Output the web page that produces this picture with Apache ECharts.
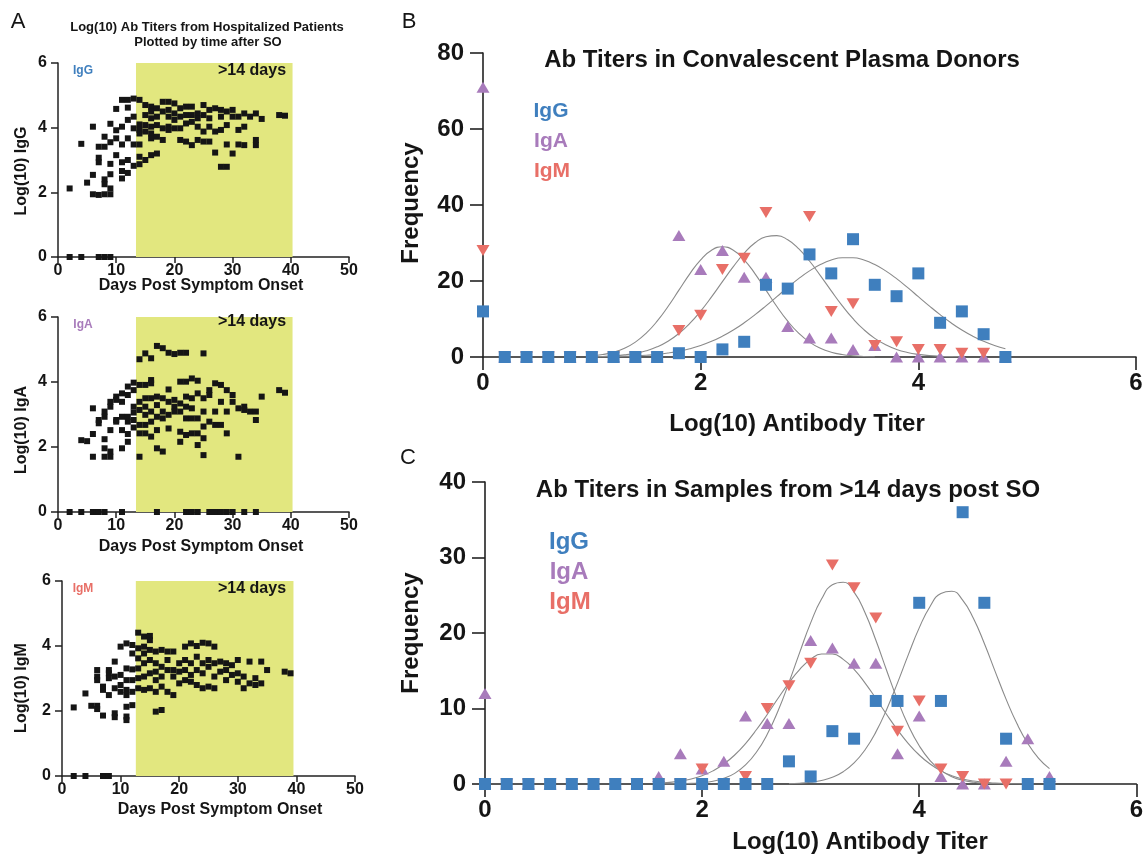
<!DOCTYPE html>
<html>
<head>
<meta charset="utf-8">
<title>Antibody titers</title>
<script src="https://cdn.jsdelivr.net/npm/echarts@6/dist/echarts.min.js"></script>
<style>
  html, body { margin: 0; padding: 0; background: #fff; }
  #chart { width: 1146px; height: 856px; }
</style>
</head>
<body>
<div id="chart"></div>
<script>
// ---------- Panel A: log10 titers of hospitalized patients vs. days post symptom onset ----------
const hospIgG = [
  [2,0],[4,0],[7,0],[8,0],[9,0],
  [2,2.12],[4,3.5],[5,2.3],[6,4.03],[6,2.54],[6,1.94],[7,1.92],[7,3.07],[7,2.93],[7,3.41],
  [8,3.41],[8,3.72],[8,2.4],[8,2.25],[8,1.94],[9,1.94],[9,2.12],[9,2.56],[9,2.88],[9,3.55],[9,4.12],
  [10,3.92],[10,4.58],[10,3.15],[10,3.67],[11,4.86],[11,4.03],[11,3.48],[11,2.93],[11,2.66],[11,2.43],
  [12,4.86],[12,4.62],[12,4.24],[12,3.67],[12,3.0],[12,2.6],[13,4.9],[13,4.34],[13,3.98],[13,3.48],[13,2.82],
  [14,4.86],[14,4.1],[14,3.93],[14,3.82],[14,3.48],[14,3.1],[14,2.87],
  [15,4.7],[15,4.39],[15,4.08],[15,3.88],[15,3.0],
  [16,4.65],[16,4.5],[16,4.29],[16,4.03],[16,3.82],[16,3.67],[16,3.15],
  [17,4.6],[17,4.34],[17,4.08],[17,3.72],[17,3.2],
  [18,4.8],[18,4.5],[18,3.98],[18,3.62],
  [19,4.8],[19,4.55],[19,4.34],[19,4.03],[19,3.93],
  [20,4.75],[20,4.44],[20,4.24],[20,3.98],
  [21,4.6],[21,4.34],[21,3.98],[21,3.62],
  [22,4.65],[22,4.39],[22,4.13],[22,3.57],
  [23,4.65],[23,4.39],[23,4.18],[23,3.46],
  [24,4.44],[24,4.29],[24,4.03],[24,3.62],
  [25,4.7],[25,4.39],[25,3.88],[25,3.57],
  [26,4.55],[26,4.29],[26,4.03],[26,3.57],
  [27,4.6],[27,3.88],[27,3.23],
  [28,4.55],[28,4.34],[28,3.93],[28,2.79],
  [29,4.5],[29,4.08],[29,3.48],[29,2.79],
  [30,4.55],[30,4.34],[30,3.2],
  [31,4.34],[31,3.93],[31,3.48],
  [32,4.44],[32,4.03],[32,3.46],
  [33,4.34],
  [34,4.44],[34,3.62],[34,3.46],
  [35,4.27],[38,4.39],[39,4.37]
];

const hospIgA = [
  [2,0],[4,0],[6,0],[6.6,0],[7,0],[8,0],[11,0],[17,0],[22,0],[22.6,0],[23,0],[24,0],
  [26,0],[26.6,0],[27,0],[28,0],[29,0],[30,0],[32,0],[34,0],
  [4,2.21],[5,2.18],[6,3.19],[6,2.4],[6,1.7],[7,2.83],[7,2.73],[8,3.09],[8,2.93],[8,2.24],[8,1.96],[8,1.7],
  [9,3.39],[9,3.24],[9,2.52],[9,1.86],[9,1.7],[10,3.55],[10,3.45],[10,2.83],[10,2.78],
  [11,3.65],[11,3.39],[11,2.93],[11,2.52],[11,1.96],[12,3.86],[12,3.6],[12,2.93],[12,2.78],[12,2.4],[12,2.16],
  [13,3.98],[13,3.75],[13,3.24],[13,3.06],[13,2.83],[13,2.6],
  [14,4.7],[14,3.91],[14,3.39],[14,3.14],[14,2.68],[14,2.42],[14,1.7],
  [15,4.88],[15,3.91],[15,3.5],[15,3.24],[15,2.99],[15,2.68],[15,2.42],
  [16,4.73],[16,4.06],[16,3.96],[16,3.5],[16,3.09],[16,2.78],[16,2.32],
  [17,5.11],[17,3.55],[17,3.29],[17,2.93],[17,2.52],[17,1.96],
  [18,5.04],[18,3.5],[18,3.09],[18,2.88],[18,1.86],
  [19,4.9],[19,3.77],[19,3.39],[19,2.99],[19,2.57],
  [20,4.86],[20,3.45],[20,3.24],[20,3.09],
  [21,4.9],[21,4.01],[21,3.34],[21,3.09],[21,2.47],[21,2.16],
  [22,4.9],[22,4.01],[22,3.55],[22,3.24],[22,2.88],[22,2.37],
  [23,4.11],[23,3.5],[23,3.19],[23,2.88],[23,2.42],
  [24,4.04],[24,3.65],[24,2.88],[24,2.42],[24,2.06],
  [25,4.88],[25,3.5],[25,3.09],[25,2.63],[25,2.27],[25,1.75],
  [26,3.75],[26,3.6],[26,2.78],
  [27,3.96],[27,3.09],[27,2.68],
  [28,3.91],[28,3.39],[28,2.68],
  [29,3.75],[29,3.09],[29,2.42],
  [30,3.6],[30,3.39],
  [31,3.19],[31,1.7],
  [32,3.24],[32,3.14],
  [33,3.09],
  [34,3.09],[34,2.83],
  [35,3.55],[38,3.75],[39,3.67]
];

const hospIgM = [
  [2,0],[4,0],[7,0],[7.5,0],[8,0],
  [2,2.11],[4,2.54],[5,2.16],[6,2.16],[6,2.06],[6,3.26],[6,3.06],[6,2.95],[7,2.75],[7,2.65],[7,1.86],
  [8,3.26],[8,3.16],[8,3.01],[8,2.49],
  [9,3.52],[9,3.06],[9,2.7],[9,1.93],[9,1.81],
  [10,3.98],[10,3.11],[10,2.8],[10,2.59],
  [11,4.08],[11,3.31],[11,2.95],[11,2.65],[11,2.49],[11,2.13],[11,1.83],[11,1.72],
  [12,4.03],[12,3.77],[12,3.28],[12,2.95],[12,2.59],[12,2.18],
  [13,4.41],[13,3.93],[13,3.62],[13,3.31],[13,3.01],[13,2.7],
  [14,4.29],[14,3.98],[14,3.77],[14,3.47],[14,3.06],[14,2.65],
  [15,4.31],[15,4.18],[15,3.88],[15,3.57],[15,3.16],[15,2.7],
  [16,3.83],[16,3.47],[16,3.21],[16,2.95],[16,2.59],[16,1.98],
  [17,3.88],[17,3.36],[17,3.06],[17,2.75],[17,2.03],
  [18,3.83],[18,3.57],[18,3.26],[18,2.59],
  [19,3.83],[19,3.26],[19,3.06],[19,2.49],
  [20,3.47],[20,3.21],[20,2.85],
  [21,3.98],[21,3.57],[21,3.26],[21,2.95],
  [22,4.08],[22,3.47],[22,3.11],[22,2.9],
  [23,4.0],[23,3.67],[23,3.26],[23,2.8],
  [24,4.1],[24,3.47],[24,3.16],[24,2.7],
  [25,4.08],[25,3.57],[25,3.36],[25,2.75],
  [26,3.98],[26,3.47],[26,3.06],[26,2.7],
  [27,3.52],[27,3.21],
  [28,3.47],[28,3.26],[28,2.95],
  [29,3.41],[29,3.11],
  [30,3.57],[30,3.16],[30,2.9],
  [31,3.06],[31,2.7],
  [32,3.52],[32,2.85],
  [33,3.01],[33,2.8],
  [34,3.52],[34,2.85],
  [35,3.26],[38,3.21],[39,3.16]
];

// Shaded window of samples taken more than 14 days after onset, per panel [from, to] in days
const lateWindowIgG = [13.4, 40.3];
const lateWindowIgA = [13.4, 40.3];
const lateWindowIgM = [12.6, 39.5];

// ---------- Panel B: frequency histogram, convalescent plasma donors ----------
const binsB = [0,0.2,0.4,0.6,0.8,1.0,1.2,1.4,1.6,1.8,2.0,2.2,2.4,2.6,2.8,3.0,3.2,3.4,3.6,3.8,4.0,4.2,4.4,4.6,4.8];
const donorIgG = [12,0,0,0,0,0,0,0,0,1,0,2,4,19,18,27,22,31,19,16,22,9,12,6,0];
const donorIgA = [71,0,0,0,0,0,0,0,0,32,23,28,21,21,8,5,5,2,3,0,0,0,0,0,0];
const donorIgM = [28,0,0,0,0,0,0,0,0,7,11,23,26,38,null,37,12,14,3,4,2,2,1,1,null];

// Gaussian fit lines for panel B, sampled every 0.1 log units from 1.0
const fitXB = [1.0,1.1,1.2,1.3,1.4,1.5,1.6,1.7,1.8,1.9,2.0,2.1,2.2,2.3,2.4,2.5,2.6,2.7,2.8,2.9,3.0,3.1,3.2,3.3,3.4,3.5,3.6,3.7,3.8,3.9,4.0,4.1,4.2,4.3,4.4,4.5,4.6,4.7,4.8];
const fitB_IgG = [0.04,0.07,0.11,0.18,0.29,0.46,0.7,1.05,1.53,2.18,3.03,4.12,5.48,7.1,9.0,11.14,13.46,15.89,18.31,20.62,22.66,24.33,25.51,26.12,26.12,25.51,24.33,22.66,20.62,18.31,15.89,13.46,11.14,9.0,7.1,5.48,4.12,3.03,2.18];
const fitB_IgA = [0.32,0.66,1.27,2.31,3.92,6.27,9.42,13.28,17.59,21.89,25.59,28.1,29,28.1,25.59,21.89,17.59,13.28,9.42,6.27,3.92,2.31,1.27,0.66,0.32,0.15,0.06];
const fitB_IgM = [0.08,0.15,0.29,0.55,0.97,1.64,2.67,4.15,6.19,8.84,12.08,15.81,19.82,23.77,27.32,30.05,31.66,31.94,30.85,28.53,25.26,21.42,17.4,13.52,10.07,7.18,4.9,3.2,2.0,1.2,0.69,0.38,0.2,0.1,0.05];

// ---------- Panel C: frequency histogram, samples >14 days post onset ----------
const binsC = [0,0.2,0.4,0.6,0.8,1.0,1.2,1.4,1.6,1.8,2.0,2.2,2.4,2.6,2.8,3.0,3.2,3.4,3.6,3.8,4.0,4.2,4.4,4.6,4.8,5.0,5.2];
const lateIgG = [0,0,0,0,0,0,0,0,0,0,0,0,0,0,3,1,7,6,11,11,24,11,36,24,6,0,0];
const lateIgA = [12,0,0,0,0,0,0,0,1,4,2,3,9,8,8,19,18,16,16,4,9,1,0,0,3,6,1];
const lateIgM = [0,0,0,0,0,0,0,0,0,0,2,0,1,10,13,16,29,26,22,7,11,2,1,0,0,null,null];

// Gaussian fit lines for panel C, sampled every 0.1 log units from 1.6
const fitXC = [1.6,1.7,1.8,1.9,2.0,2.1,2.2,2.3,2.4,2.5,2.6,2.7,2.8,2.9,3.0,3.1,3.2,3.3,3.4,3.5,3.6,3.7,3.8,3.9,4.0,4.1,4.2,4.3,4.4,4.5,4.6,4.7,4.8,4.9,5.0,5.1,5.2];
const fitC_IgG = [null,null,null,null,null,null,null,null,null,null,null,null,0.05,0.1,0.23,0.46,0.89,1.63,2.79,4.51,6.87,9.88,13.4,17.14,20.68,23.52,25.24,25.53,24.36,21.92,18.61,14.89,11.24,8.0,5.37,3.4,2.03];
const fitC_IgA = [0.12,0.22,0.39,0.67,1.1,1.74,2.64,3.84,5.36,7.18,9.21,11.35,13.4,15.19,16.51,17.21,17.21,16.51,15.19,13.4,11.35,9.21,7.18,5.36,3.84,2.64,1.74,1.1,0.67,0.39,0.22,0.12,0.06,0.03,0.01];
const fitC_IgM = [0.0,0.01,0.03,0.08,0.17,0.37,0.75,1.41,2.52,4.2,6.59,9.71,13.44,17.47,21.34,24.49,26.39,26.72,25.42,22.72,19.07,15.04,11.14,7.75,5.07,3.11,1.8,0.97,0.5,0.24,0.11,0.05,0.02];

// ---------- styling ----------
const FONT = '"Liberation Sans", Arial, Helvetica, sans-serif';
const C_IGG = '#3f7fbe';
const C_IGA = '#a87bbb';
const C_IGM = '#e86f67';
const YELLOW = '#e2e77f';
const INK = '#151515';
const FIT = '#8a8a8a';

function zip(xs, ys) {
  const out = [];
  ys.forEach((y, i) => { if (y !== null && y !== undefined) out.push([xs[i], y]); });
  return out;
}

function valueAxis(gridIndex, min, max, interval, o) {
  return {
    type: 'value', gridIndex, min, max, interval,
    axisLine: { show: true, onZero: false, lineStyle: { color: '#222', width: o.lw } },
    axisTick: { show: true, length: o.tick, lineStyle: { color: '#222', width: o.lw } },
    splitLine: { show: false },
    axisLabel: { color: INK, fontFamily: FONT, fontWeight: 'bold', fontSize: o.fs, margin: o.margin }
  };
}

const smallX = { lw: 1.5, tick: 6, fs: 16, margin: 6 };
const smallY = { lw: 1.5, tick: 7, fs: 16, margin: 11 };
const bigX = { lw: 1.6, tick: 13, fs: 24, margin: 14 };
const bigY = { lw: 1.6, tick: 13, fs: 24, margin: 19 };

function hospSeries(data, idx, win, yTop) {
  return {
    type: 'scatter', xAxisIndex: idx, yAxisIndex: idx, data,
    symbol: 'rect', symbolSize: 6, z: 3, clip: false,
    itemStyle: { color: INK, opacity: 1 },
    markArea: {
      silent: true,
      itemStyle: { color: YELLOW, opacity: 1 },
      data: [[{ xAxis: win[0], yAxis: 0 }, { xAxis: win[1], yAxis: yTop }]]
    }
  };
}

function histSeries(name, xs, ys, idx, shape, color, z) {
  const s = {
    name, type: 'scatter', xAxisIndex: idx, yAxisIndex: idx,
    data: zip(xs, ys), z,
    itemStyle: { color, opacity: 1 }
  };
  if (shape === 'square') { s.symbol = 'rect'; s.symbolSize = 12; }
  if (shape === 'up') { s.symbol = 'triangle'; s.symbolSize = [13, 11]; }
  if (shape === 'down') { s.symbol = 'triangle'; s.symbolSize = [13, 11]; s.symbolRotate = 180; }
  return s;
}

function fitSeries(xs, ys, idx) {
  return {
    type: 'line', xAxisIndex: idx, yAxisIndex: idx, data: zip(xs, ys),
    smooth: true, showSymbol: false, symbol: 'none', z: 2, silent: true,
    lineStyle: { color: FIT, width: 1.1 }
  };
}

function txt(text, x, y, size, color, extra) {
  const el = {
    type: 'text', x, y, z: 100, silent: true,
    style: {
      text, fill: color || INK,
      font: (extra && extra.weight ? extra.weight : 'bold') + ' ' + size + 'px ' + FONT,
      align: 'center', verticalAlign: 'middle',
      textAlign: 'center', textVerticalAlign: 'middle'
    }
  };
  if (extra && extra.rotation) el.rotation = extra.rotation;
  return el;
}

const ROT = Math.PI / 2;

const option = {
  animation: false,
  backgroundColor: '#ffffff',
  grid: [
    { left: 58, top: 63, width: 291, height: 194 },
    { left: 58, top: 317, width: 291, height: 195 },
    { left: 62, top: 581, width: 293, height: 195 },
    { left: 483, top: 53, width: 653, height: 304 },
    { left: 485, top: 482, width: 652, height: 302 }
  ],
  xAxis: [
    valueAxis(0, 0, 50, 10, smallX),
    valueAxis(1, 0, 50, 10, smallX),
    valueAxis(2, 0, 50, 10, smallX),
    valueAxis(3, 0, 6, 2, bigX),
    valueAxis(4, 0, 6, 2, bigX)
  ],
  yAxis: [
    valueAxis(0, 0, 6, 2, smallY),
    valueAxis(1, 0, 6, 2, smallY),
    valueAxis(2, 0, 6, 2, smallY),
    valueAxis(3, 0, 80, 20, bigY),
    valueAxis(4, 0, 40, 10, bigY)
  ],
  series: [
    hospSeries(hospIgG, 0, lateWindowIgG, 6.2),
    hospSeries(hospIgA, 1, lateWindowIgA, 6.15),
    hospSeries(hospIgM, 2, lateWindowIgM, 6.15),

    fitSeries(fitXB, fitB_IgG, 3),
    fitSeries(fitXB, fitB_IgA, 3),
    fitSeries(fitXB, fitB_IgM, 3),
    histSeries('IgA', binsB, donorIgA, 3, 'up', C_IGA, 3),
    histSeries('IgM', binsB, donorIgM, 3, 'down', C_IGM, 4),
    histSeries('IgG', binsB, donorIgG, 3, 'square', C_IGG, 5),

    fitSeries(fitXC, fitC_IgG, 4),
    fitSeries(fitXC, fitC_IgA, 4),
    fitSeries(fitXC, fitC_IgM, 4),
    histSeries('IgA', binsC, lateIgA, 4, 'up', C_IGA, 3),
    histSeries('IgM', binsC, lateIgM, 4, 'down', C_IGM, 4),
    histSeries('IgG', binsC, lateIgG, 4, 'square', C_IGG, 5)
  ],
  graphic: [
    // panel letters
    txt('A', 18, 22, 22, INK, { weight: 'normal' }),
    txt('B', 409, 22, 22, INK, { weight: 'normal' }),
    txt('C', 408, 458, 22, INK, { weight: 'normal' }),

    // panel A
    txt('Log(10) Ab Titers from Hospitalized Patients', 207, 27, 13),
    txt('Plotted by time after SO', 208, 42, 13),
    txt('IgG', 83, 71, 12, C_IGG),
    txt('>14 days', 252, 71, 16),
    txt('IgA', 83, 325, 12, C_IGA),
    txt('>14 days', 252, 322, 16),
    txt('IgM', 83, 589, 12, C_IGM),
    txt('>14 days', 252, 589, 16),
    txt('Log(10) IgG', 22, 171, 16, INK, { rotation: ROT }),
    txt('Log(10) IgA', 22, 430, 16, INK, { rotation: ROT }),
    txt('Log(10) IgM', 22, 688, 16, INK, { rotation: ROT }),
    txt('Days Post Symptom Onset', 201, 286, 16),
    txt('Days Post Symptom Onset', 201, 547, 16),
    txt('Days Post Symptom Onset', 220, 810, 16),

    // panel B
    txt('Ab Titers in Convalescent Plasma Donors', 782, 60, 24),
    txt('IgG', 551, 111, 21, C_IGG),
    txt('IgA', 551, 141, 21, C_IGA),
    txt('IgM', 552, 171, 21, C_IGM),
    txt('Frequency', 411, 203, 24, INK, { rotation: ROT }),
    txt('Log(10) Antibody Titer', 797, 424, 24),

    // panel C
    txt('Ab Titers in Samples from >14 days post SO', 788, 490, 24),
    txt('IgG', 569, 542, 24, C_IGG),
    txt('IgA', 569, 572, 24, C_IGA),
    txt('IgM', 570, 602, 24, C_IGM),
    txt('Frequency', 411, 633, 24, INK, { rotation: ROT }),
    txt('Log(10) Antibody Titer', 860, 842, 24)
  ]
};

const chart = echarts.init(document.getElementById('chart'), null, { renderer: 'canvas' });
chart.setOption(option);
</script>
</body>
</html>
